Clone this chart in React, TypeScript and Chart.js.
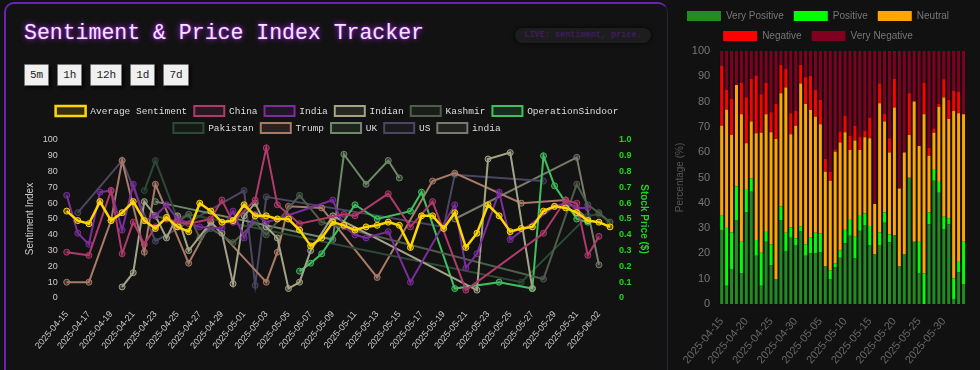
import React, { useEffect, useRef } from "react";
import { Chart, registerables } from "chart.js";
Chart.register(...registerables);

const dates = [
  "2025-04-15","2025-04-16","2025-04-17","2025-04-18","2025-04-19","2025-04-20","2025-04-21","2025-04-22","2025-04-23","2025-04-24",
  "2025-04-25","2025-04-26","2025-04-27","2025-04-28","2025-04-29","2025-04-30","2025-05-01","2025-05-02","2025-05-03","2025-05-04",
  "2025-05-05","2025-05-06","2025-05-07","2025-05-08","2025-05-09","2025-05-10","2025-05-11","2025-05-12","2025-05-13","2025-05-14",
  "2025-05-15","2025-05-16","2025-05-17","2025-05-18","2025-05-19","2025-05-20","2025-05-21","2025-05-22","2025-05-23","2025-05-24",
  "2025-05-25","2025-05-26","2025-05-27","2025-05-28","2025-05-29","2025-05-30","2025-05-31","2025-06-01","2025-06-02","2025-06-03"
];

const _ = null;
const avgSentiment = [55,49,47,61,49,54,61,49,44,51,45,42,60,55,48,49,59,52,52,50,50,43,33,38,48,46,43,45,46,48,46,32,52,52,44,54,32,41,59,52,42,44,45,55,58,57,54,49,48,45];
const china = [29,_,27,_,68,28,48,34,45,50,48,47,_,50,62,48,_,62,95,59,_,47,_,_,_,53,52,_,_,66,_,45,_,61,_,_,5,_,_,_,_,_,_,41,_,62,60,27,39,_];
const india = [65,41,34,67,68,43,72,49,52,59,50,_,45,_,44,55,38,53,48,50,_,_,_,_,62,45,40,38,_,42,_,10,_,_,_,59,19,28,_,67,37,_,_,_,58,60,57,57,_,_];
const indian = [_,_,_,_,_,7,16,61,52,38,52,30,_,48,41,9,52,60,45,38,6,10,30,_,52,_,_,_,_,_,_,_,_,_,_,_,_,5,88,_,92,_,6,_,_,_,_,_,_,_];
const kashmir = [_,_,_,_,_,_,_,_,52,50,48,53,38,44,_,35,_,48,40,_,_,65,_,48,_,_,_,_,_,_,_,_,_,_,_,_,_,_,_,_,_,_,_,12,_,_,72,59,54,48];
const operationSindoor = [_,_,_,_,_,_,_,_,_,_,_,_,_,_,_,_,_,_,_,_,_,17,22,28,_,_,59,_,50,_,_,55,67,_,_,6,_,_,_,10,_,_,6,90,71,_,50,48,_,_];
const pakistan = [_,_,_,_,_,_,_,68,87,_,50,53,_,_,_,_,_,_,_,_,_,_,_,_,_,_,_,_,_,_,_,_,_,_,_,_,_,_,_,_,_,10,_,_,_,_,_,52,53,48];
const trump = [10,_,10,_,49,87,_,29,72,_,_,22,_,48,_,_,_,_,10,29,58,_,_,57,_,_,_,_,13,_,_,_,_,74,_,79,_,_,_,_,_,60,_,_,_,62,_,50,_,_];
const uk = [_,_,_,_,_,_,_,_,61,_,_,_,_,_,_,_,_,_,_,_,_,_,_,_,37,91,_,72,_,87,76,_,_,_,_,_,_,_,_,_,_,_,_,_,_,_,_,_,_,_];
const us = [_,54,_,_,_,87,_,_,36,_,_,_,_,_,_,_,68,8,64,_,_,_,_,_,_,_,_,_,_,_,_,_,_,_,45,78,_,_,_,_,_,_,_,74,_,_,_,_,_,_];
const indiaLower = [_,_,_,_,_,_,_,_,_,_,_,_,_,_,_,_,_,_,_,_,_,_,_,_,_,_,_,_,_,_,_,_,_,_,_,50,_,_,_,_,_,_,_,_,_,_,89,_,21,_];

const veryPositive = [29.2,7.2,13.8,33.2,12.1,36.2,44.4,19.1,7.2,24.6,15.4,9.9,33.2,20.9,26.2,23.3,28.9,19.1,20.0,20.0,20.4,14.8,9.9,14.4,18.3,24.0,27.0,18.0,29.0,31.2,23.1,19.8,23.3,32.1,24.4,27.3,15.0,19.8,49.9,24.6,12.1,0,31.5,48.7,44.0,29.6,31.5,2.0,12.5,7.9];
const positive = [5.7,23.2,14.5,13.2,12.5,9.3,5.3,6.2,13.1,4.3,8.2,0,5.3,7.3,4.0,2.7,1.7,4.5,6.4,8.2,7.5,0.2,3.3,1.7,2.8,5.6,6.6,8.6,6.2,4.6,7.7,0,5.0,4.1,3.1,0,0,0,0,0,12.5,12.1,4.7,4.7,4.6,4.9,2.4,8.1,4.5,16.7];
const neutral = [35.6,46.4,38.5,40.2,50.4,18.0,22.4,42.2,47.4,46.1,44.3,55.3,44.8,57.4,36.9,44.5,56.6,55.5,50.3,45.8,43.1,37.3,35.5,44.1,42.7,38.3,27.3,38.0,25.7,30.1,34.7,19.7,51.0,35.9,32.4,50.4,30.7,40.1,16.9,55.4,37.9,62.9,22.4,14.3,29.4,47.1,39.2,66.2,58.4,50.4];
const negative = [23.7,7.8,14.2,0,12.5,18.2,16.8,22.7,15.2,12.5,7.9,13.9,11.2,7.3,8.3,5.8,7.3,10.5,13.4,10.6,9.6,5.0,3.6,0.9,4.3,6.5,5.6,5.8,5.2,2.5,8.1,0,7.9,3.0,5.6,11.2,0,0,16.5,0,0,12.5,3.2,1.7,1.1,7.2,7.5,7.9,8.5,0];
const veryNegative = [5.8,15.4,19.0,13.4,12.5,18.3,11.1,9.8,17.1,12.5,24.2,20.9,5.5,7.1,24.6,23.7,5.5,10.4,9.9,15.4,19.4,42.7,47.7,38.9,31.9,25.6,33.5,29.6,33.9,31.6,26.4,60.5,12.8,24.9,34.5,11.1,54.3,40.1,16.7,20.0,37.5,12.5,38.2,30.6,20.9,11.2,19.4,15.8,16.1,25.0];

function alpha(hex: string, a: number) {
  const n = parseInt(hex.slice(1), 16);
  return `rgba(${(n >> 16) & 255},${(n >> 8) & 255},${n & 255},${a})`;
}

const lineSeries: { label: string; data: (number | null)[]; color: string; width: number }[] = [
  { label: "Average Sentiment", data: avgSentiment, color: "#ffd700", width: 2.5 },
  { label: "China", data: china, color: "#b03a6c", width: 2 },
  { label: "India", data: india, color: "#7b2d9c", width: 2 },
  { label: "Indian", data: indian, color: "#a3a388", width: 2 },
  { label: "Kashmir", data: kashmir, color: "#4d5e4a", width: 2 },
  { label: "OperationSindoor", data: operationSindoor, color: "#3fbf5f", width: 2 },
  { label: "Pakistan", data: pakistan, color: "#2d4a36", width: 2 },
  { label: "Trump", data: trump, color: "#a87a68", width: 2 },
  { label: "UK", data: uk, color: "#6f8a6b", width: 2 },
  { label: "US", data: us, color: "#4b4662", width: 2 },
  { label: "india", data: indiaLower, color: "#7a7a6c", width: 2 },
];

const shrinkLegend = (px: number) => ({
  id: "shrinkLegend",
  beforeInit(chart: any) {
    const orig = chart.legend.fit;
    chart.legend.fit = function () {
      orig.call(this);
      this.height -= px;
    };
  },
});

export default function App() {
  const lineRef = useRef<HTMLCanvasElement>(null);
  const barRef = useRef<HTMLCanvasElement>(null);

  useEffect(() => {
    const lc = new Chart(lineRef.current!, {
      type: "line",
      data: {
        labels: dates,
        datasets: lineSeries.map((s) => ({
          label: s.label,
          data: s.data,
          borderColor: s.color,
          backgroundColor: alpha(s.color, 0.15),
          pointBackgroundColor: alpha(s.color, 0.35),
          pointBorderColor: s.color,
          borderWidth: s.width,
          pointRadius: 3,
          pointBorderWidth: 1,
          tension: 0,
          spanGaps: true,
          yAxisID: "y",
        })),
      },
      options: {
        responsive: false,
        animation: false,
        layout: { padding: { left: 8, right: 8, top: 0, bottom: 0 } },
        plugins: {
          legend: {
            position: "top",
            labels: {
              color: "#dddddd",
              font: { family: "'Courier New', monospace", size: 9.5 },
              boxWidth: 30,
              boxHeight: 10,
              padding: 7,
            },
          },
          tooltip: { enabled: false },
        },
        scales: {
          x: {
            grid: { display: false },
            ticks: {
              color: "#cccccc",
              font: { size: 9 },
              autoSkip: false,
              minRotation: 50,
              maxRotation: 50,
              padding: 3,
              callback: (_v: any, i: number) => (i % 2 === 0 ? dates[i] : null),
            },
            afterFit: (s: any) => { s.height = 60; },
          },
          y: {
            position: "left",
            min: 0,
            max: 100,
            grid: { display: false },
            ticks: { stepSize: 10, color: "#cccccc", font: { size: 9 }, padding: 1 },
            title: { display: true, text: "Sentiment Index", color: "#cccccc", font: { size: 10 } },
            afterFit: (s: any) => { s.width = 46.7; },
          },
          y1: {
            position: "right",
            min: 0,
            max: 1,
            grid: { display: false },
            ticks: { stepSize: 0.1, color: "#22d422", font: { size: 9, weight: "bold" }, padding: 1 },
            title: { display: true, text: "Stock Price ($)", color: "#22d422", font: { size: 10, weight: "bold" } },
            afterFit: (s: any) => { s.width = 44; },
          },
        },
      },
      plugins: [shrinkLegend(3)],
    } as any);

    const barColors = ["#228b22", "#00ff00", "#ffa500", "#ff0000", "#800020"];
    const barSets = [
      { label: "Very Positive", data: veryPositive },
      { label: "Positive", data: positive },
      { label: "Neutral", data: neutral },
      { label: "Negative", data: negative },
      { label: "Very Negative", data: veryNegative },
    ];
    const bc = new Chart(barRef.current!, {
      type: "bar",
      data: {
        labels: dates,
        datasets: barSets.map((s, k) => ({
          label: s.label,
          data: s.data,
          backgroundColor: barColors[k],
          borderWidth: 0,
          barPercentage: 0.75,
          categoryPercentage: 0.8,
        })),
      },
      options: {
        responsive: false,
        animation: false,
        layout: { padding: 0 },
        plugins: {
          legend: {
            position: "top",
            labels: { color: "#777777", font: { size: 10 }, boxWidth: 34, boxHeight: 10, padding: 10 },
          },
          tooltip: { enabled: false },
        },
        scales: {
          x: {
            stacked: true,
            grid: { display: false },
            ticks: {
              color: "#666666",
              font: { size: 11 },
              autoSkip: false,
              minRotation: 50,
              maxRotation: 50,
              callback: (_v: any, i: number) => (i % 5 === 0 ? dates[i] : null),
            },
            afterFit: (s: any) => { s.height = 64; },
          },
          y: {
            stacked: true,
            min: 0,
            max: 100,
            grid: { display: false },
            ticks: { stepSize: 10, color: "#777777", font: { size: 11 }, padding: 1 },
            title: { display: true, text: "Percentage (%)", color: "#555555", font: { size: 10 } },
            afterFit: (s: any) => { s.width = 49.2; },
          },
        },
      },
    } as any);

    return () => {
      lc.destroy();
      bc.destroy();
    };
  }, []);

  const btn: React.CSSProperties = {
    height: 22,
    boxSizing: "border-box",
    padding: "0 5px",
    background: "#f0f0f0",
    color: "#222",
    border: "1px solid #777",
    borderRadius: 1,
    boxShadow: "2px 2px 3px rgba(0,0,0,0.7)",
    fontFamily: "'Courier New', monospace",
    fontSize: 11,
    lineHeight: "20px",
  };

  return (
    <div style={{ position: "relative", width: 980, height: 370, overflow: "hidden", background: "#111111" }}>
      <style>{`html,body{margin:0;padding:0;background:#111111;}`}</style>
      <div
        style={{
          position: "absolute",
          left: 4,
          top: 2,
          width: 664,
          height: 420,
          boxSizing: "border-box",
          borderTop: "2px solid #6a22b4",
          borderLeft: "2px solid #6a22b4",
          borderRight: "1px solid #2a2232",
          borderRadius: 10,
          background: "#121212",
        }}
      />
      <div
        style={{
          position: "absolute",
          left: 24,
          top: 23,
          fontFamily: "'Courier New', monospace",
          fontSize: 21.5,
          lineHeight: "21.5px",
          color: "#f3e4f6",
          whiteSpace: "nowrap",
          textShadow: "0 0 6px #b026ff, 0 0 2px #9a20e0",
        }}
      >
        Sentiment &amp; Price Index Tracker
      </div>
      <div
        style={{
          position: "absolute",
          left: 515,
          top: 28,
          width: 136,
          height: 15,
          borderRadius: 8,
          background: "#1d1d1d",
          boxShadow: "0 0 4px rgba(0,0,0,0.8)",
          color: "#3e1d5e",
          fontFamily: "'Courier New', monospace",
          fontSize: 8.5,
          fontWeight: "bold",
          lineHeight: "15px",
          textAlign: "center",
          whiteSpace: "nowrap",
        }}
      >
        LIVE: sentiment, price.
      </div>
      <div style={{ position: "absolute", left: 24, top: 64, display: "flex", gap: 8 }}>
        {["5m", "1h", "12h", "1d", "7d"].map((t) => (
          <div key={t} style={btn}>{t}</div>
        ))}
      </div>
      <canvas
        ref={lineRef}
        width={650}
        height={259}
        style={{ position: "absolute", left: 12, top: 99, width: 650, height: 259, display: "block" }}
      />
      <canvas
        ref={barRef}
        width={296}
        height={367}
        style={{ position: "absolute", left: 670, top: 1, width: 296, height: 367, display: "block" }}
      />
    </div>
  );
}
